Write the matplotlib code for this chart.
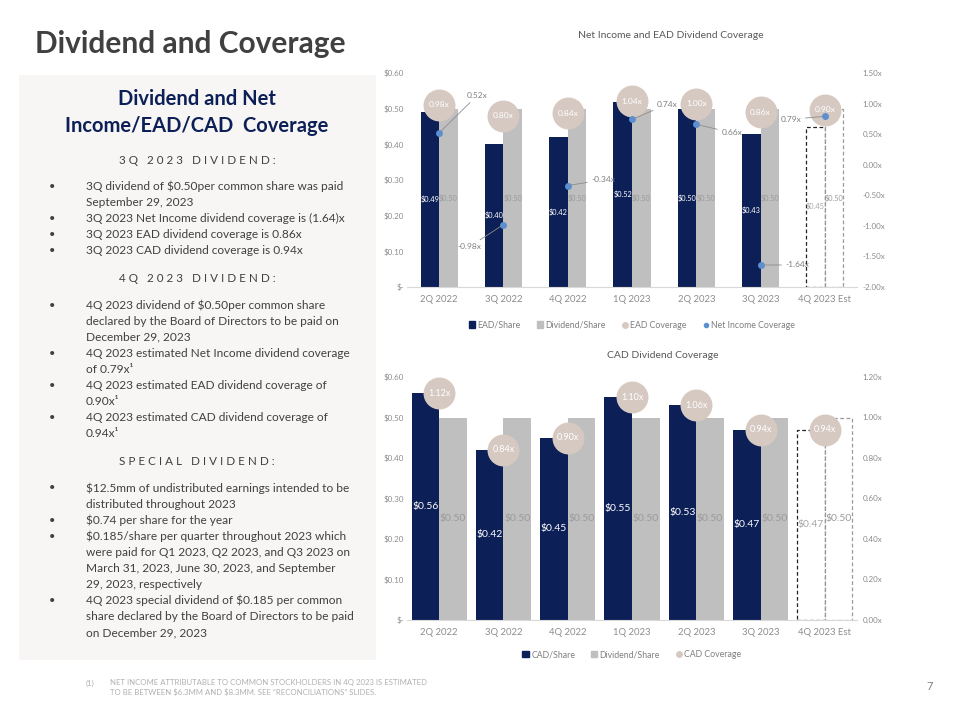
import numpy as np
import matplotlib
matplotlib.use("Agg")
import matplotlib.pyplot as plt
from matplotlib.patches import Rectangle, Patch
from matplotlib.lines import Line2D
from matplotlib.ticker import FuncFormatter, MultipleLocator

plt.rcParams['font.family'] = ['Lato', 'DejaVu Sans']
# dollar signs are plain text here, not mathtext
plt.rcParams['text.parse_math'] = False

# Chart data
quarters = ['2Q 2022', '3Q 2022', '4Q 2022', '1Q 2023', '2Q 2023', '3Q 2023', '4Q 2023 Est']
ead_share = [0.49, 0.40, 0.42, 0.52, 0.50, 0.43, 0.45]
dividend_share = [0.50, 0.50, 0.50, 0.50, 0.50, 0.50, 0.50]
ead_coverage = [0.98, 0.80, 0.84, 1.04, 1.00, 0.86, 0.90]
ni_coverage = [0.52, -0.98, -0.34, 0.74, 0.66, -1.64, 0.79]
cad_share = [0.56, 0.42, 0.45, 0.55, 0.53, 0.47, 0.47]
cad_coverage = [1.12, 0.84, 0.90, 1.10, 1.06, 0.94, 0.94]

# Left panel text
sections = [
    ("3Q 2023 DIVIDEND:", [
        ["3Q dividend of $0.50per common share was paid", "September 29, 2023"],
        ["3Q 2023 Net Income dividend coverage is (1.64)x"],
        ["3Q 2023 EAD dividend coverage is 0.86x"],
        ["3Q 2023 CAD dividend coverage is 0.94x"],
    ]),
    ("4Q 2023 DIVIDEND:", [
        ["4Q 2023 dividend of $0.50per common share",
         "declared by the Board of Directors to be paid on", "December 29, 2023"],
        ["4Q 2023 estimated Net Income dividend coverage", "of 0.79x\u00b9"],
        ["4Q 2023 estimated EAD dividend coverage of", "0.90x\u00b9"],
        ["4Q 2023 estimated CAD dividend coverage of", "0.94x\u00b9"],
    ]),
    ("SPECIAL DIVIDEND:", [
        ["$12.5mm of undistributed earnings intended to be", "distributed throughout 2023"],
        ["$0.74 per share for the year"],
        ["$0.185/share per quarter throughout 2023 which",
         "were paid for Q1 2023, Q2 2023, and Q3 2023 on",
         "March 31, 2023, June 30, 2023, and September", "29, 2023, respectively"],
        ["4Q 2023 special dividend of $0.185 per common",
         "share declared by the Board of Directors to be paid", "on December 29, 2023"],
    ]),
]

NAVY = '#0c1f56'
GRAY = '#bfbfbf'
BEIGE = '#d6c9c1'
BLUE = '#5b8fd0'
TICK = '#8c8c8c'

W, H = 960, 720


def fx(x):
    return x / W


def fy(y):
    return 1 - y / H


def spaced(s):
    # letter-spaced small caps style header
    return '   '.join(' '.join(word) for word in s.split(' '))


fig = plt.figure(figsize=(9.6, 7.2), dpi=100)

# Slide title
fig.text(fx(35), fy(44), 'Dividend and Coverage', fontsize=21.5, fontweight='bold',
         color='#404040', va='center', ha='left')

# Left panel
fig.patches.append(Rectangle((fx(19), fy(660)), fx(376) - fx(19), fy(75) - fy(660),
                             transform=fig.transFigure, facecolor='#f7f6f4',
                             edgecolor='none', zorder=0))
fig.text(fx(197), fy(99), 'Dividend and Net', fontsize=14.5, fontweight='bold',
         color=NAVY, ha='center', va='center')
fig.text(fx(197), fy(126), 'Income/EAD/CAD  Coverage', fontsize=14.5, fontweight='bold',
         color=NAVY, ha='center', va='center')

y = 160
for header, bullets in sections:
    fig.text(fx(197), fy(y), spaced(header), fontsize=8.4, color='#404040',
             ha='center', va='center')
    y += 26.5
    for lines in bullets:
        fig.text(fx(52), fy(y), '\u2022', fontsize=8, color='#404040', ha='center', va='center')
        for line in lines:
            fig.text(fx(86), fy(y), line, fontsize=8.6, color='#404040', ha='left', va='center')
            y += 16.1
    y += 11.5

# Footnote and page number
fig.text(fx(86), fy(683), '(1)', fontsize=5.6, color='#b0b0b0', va='center')
fig.text(fx(110), fy(683), 'NET INCOME ATTRIBUTABLE TO COMMON STOCKHOLDERS IN 4Q 2023 IS ESTIMATED',
         fontsize=5.6, color='#b0b0b0', va='center')
fig.text(fx(110), fy(692), 'TO BE BETWEEN $6.3MM AND $8.3MM. SEE \u201cRECONCILIATIONS\u201d SLIDES.',
         fontsize=5.6, color='#b0b0b0', va='center')
fig.text(fx(930), fy(687), '7', fontsize=8, color='#7f7f7f', ha='center', va='center')

x = np.arange(len(quarters))


def style_axes(ax, ax2):
    ax.set_xlim(-0.5, len(quarters) - 0.5)
    ax.set_xticks(x)
    ax.set_xticklabels(quarters)
    ax.tick_params(axis='x', length=0, labelsize=6.8, colors=TICK, pad=6)
    ax.tick_params(axis='y', length=0, labelsize=5.8, colors=TICK, pad=2)
    ax2.tick_params(axis='y', length=0, labelsize=5.8, colors=TICK, pad=4)
    for side in ['top', 'left', 'right']:
        ax.spines[side].set_visible(False)
        ax2.spines[side].set_visible(False)
    ax.spines['bottom'].set_color('#d9d9d9')
    ax2.spines['bottom'].set_visible(False)
    ax.set_ylim(0, 0.6)
    ax.yaxis.set_major_locator(MultipleLocator(0.1))
    ax.yaxis.set_major_formatter(FuncFormatter(lambda v, p: '$-' if abs(v) < 1e-9 else f'${v:.2f}'))
    ax2.yaxis.set_major_formatter(FuncFormatter(lambda v, p: f'{v:.2f}x'))


def draw_bars(ax, share, w, label_size, share_label_color, div_label_color):
    est = len(quarters) - 1
    ax.bar(x[:est] - w / 2, share[:est], w, color=NAVY, zorder=2)
    ax.bar(x[:est] + w / 2, dividend_share[:est], w, color=GRAY, zorder=2)
    ax.bar(x[est] - w / 2, share[est], w, facecolor='white', edgecolor='#222222',
           linestyle=(0, (3, 2)), linewidth=0.9, zorder=2)
    ax.bar(x[est] + w / 2, dividend_share[est], w, facecolor='white', edgecolor='#9a9a9a',
           linestyle=(0, (3, 2)), linewidth=0.9, zorder=2)
    for i in range(len(quarters)):
        c1 = share_label_color if i < est else '#a6a6a6'
        ax.text(x[i] - w / 2, share[i] / 2, f'${share[i]:.2f}', ha='center', va='center',
                fontsize=label_size, color=c1, zorder=3)
        ax.text(x[i] + w / 2, dividend_share[i] / 2, f'${dividend_share[i]:.2f}', ha='center',
                va='center', fontsize=label_size, color=div_label_color, zorder=3)


# Top chart: Net Income and EAD coverage
ax = fig.add_axes([fx(407), fy(287), fx(857) - fx(407), fy(73) - fy(287)])
ax2 = ax.twinx()
draw_bars(ax, ead_share, 0.29, 5.3, 'white', '#9a9a9a')
ax2.set_ylim(-2.0, 1.5)
ax2.yaxis.set_major_locator(MultipleLocator(0.5))
style_axes(ax, ax2)

ax2.plot(x, ead_coverage, 'o', ms=23, color=BEIGE, mec='none', zorder=3)
for xi, v in zip(x, ead_coverage):
    ax2.text(xi, v, f'{v:.2f}x', ha='center', va='center', fontsize=6, color='white', zorder=4)

ax2.plot(x, ni_coverage, 'o', ms=5, color=BLUE, mec='none', zorder=5)
ni_offsets = [(20, 27, 'left'), (-16, -16, 'right'), (17, 4, 'left'), (18, 11, 'left'),
              (18, -6, 'left'), (18, 0, 'left'), (-17, -2, 'right')]
for xi, v, (dx, dy, ha) in zip(x, ni_coverage, ni_offsets):
    ax2.annotate(f'{v:.2f}x', xy=(xi, v), xytext=(dx, dy), textcoords='offset points',
                 ha=ha, va='center', fontsize=6, color='#7f7f7f', zorder=5,
                 arrowprops=dict(arrowstyle='-', color='#8c8c8c', lw=0.6,
                                 shrinkA=1, shrinkB=2))

fig.text(fx(671), fy(36), 'Net Income and EAD Dividend Coverage', fontsize=7.5,
         color='#595959', ha='center', va='center')
handles = [Patch(color=NAVY, label='EAD/Share'), Patch(color=GRAY, label='Dividend/Share'),
           Line2D([], [], ls='none', marker='o', ms=4, color=BEIGE, label='EAD Coverage'),
           Line2D([], [], ls='none', marker='o', ms=3, color=BLUE, label='Net Income Coverage')]
ax.legend(handles=handles, loc='center', bbox_to_anchor=(0.5, -0.178), ncol=4, frameon=False,
          fontsize=6.3, labelcolor='#7f7f7f', handlelength=0.7, handleheight=0.7,
          handletextpad=0.3, columnspacing=1.8)

# Bottom chart: CAD coverage
bx = fig.add_axes([fx(407), fy(620), fx(857) - fx(407), fy(377) - fy(620)])
bx2 = bx.twinx()
draw_bars(bx, cad_share, 0.43, 7.5, 'white', '#9a9a9a')
bx2.set_ylim(0, 1.2)
bx2.yaxis.set_major_locator(MultipleLocator(0.2))
style_axes(bx, bx2)

bx2.plot(x, cad_coverage, 'o', ms=23, color=BEIGE, mec='none', zorder=3)
for xi, v in zip(x, cad_coverage):
    bx2.text(xi, v, f'{v:.2f}x', ha='center', va='center', fontsize=6.5, color='white', zorder=4)

fig.text(fx(663), fy(356), 'CAD Dividend Coverage', fontsize=7.5,
         color='#595959', ha='center', va='center')
handles = [Patch(color=NAVY, label='CAD/Share'), Patch(color=GRAY, label='Dividend/Share'),
           Line2D([], [], ls='none', marker='o', ms=4, color=BEIGE, label='CAD Coverage')]
bx.legend(handles=handles, loc='center', bbox_to_anchor=(0.5, -0.144), ncol=3, frameon=False,
          fontsize=6.3, labelcolor='#7f7f7f', handlelength=0.7, handleheight=0.7,
          handletextpad=0.3, columnspacing=1.8)

fig.savefig('out.png', dpi=100, facecolor='white')
